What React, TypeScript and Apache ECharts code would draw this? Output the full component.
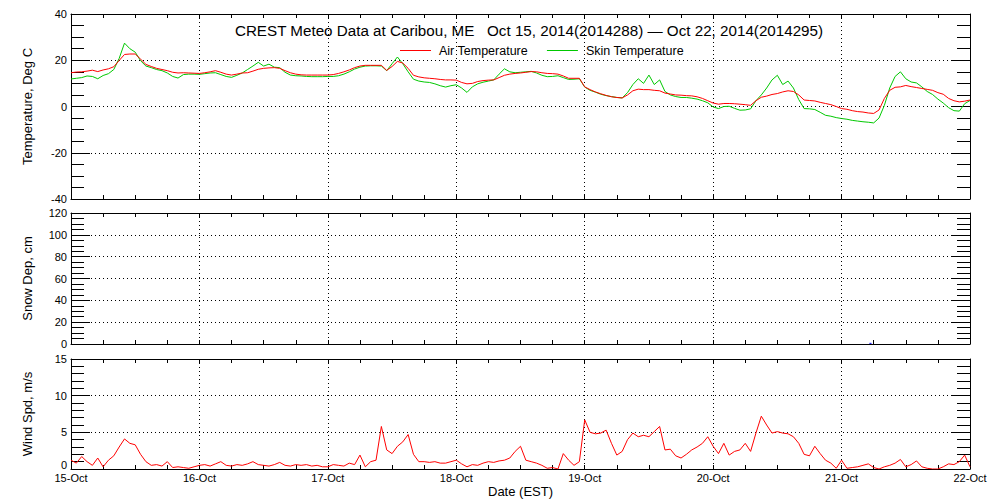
import React, { useEffect, useRef } from "react";
import * as echarts from "echarts";

const FONT = "Liberation Sans";

const titleText = "CREST Meteo Data at Caribou, ME   Oct 15, 2014(2014288) — Oct 22, 2014(2014295)";
const seriesNames = ["Air Temperature", "Skin Temperature", "Snow Depth", "Wind Speed"];
const dayLabels = ["15-Oct", "16-Oct", "17-Oct", "18-Oct", "19-Oct", "20-Oct", "21-Oct", "22-Oct"];

// hourly values, hour 0 = Oct 15 00:00 EST, hour 168 = Oct 22 00:00
const airTemp = [
  14.6, 14.9, 15.0, 15.3, 15.7, 15.1, 15.8, 16.3, 17.2, 19.9,
  22.5, 22.7, 22.7, 20.5, 18.2, 17.3, 16.5, 16.0, 15.5, 14.8,
  14.5, 14.6, 14.5, 14.4, 14.3, 14.6, 15.0, 15.5, 14.8, 14.0,
  13.6, 14.0, 14.5, 14.6, 15.3, 16.1, 16.5, 16.7, 16.8, 16.5,
  15.5, 14.6, 14.0, 13.7, 13.6, 13.6, 13.6, 13.6, 13.6, 13.8,
  14.3, 15.0, 15.8, 16.8, 17.5, 17.8, 17.8, 17.8, 17.8, 15.6,
  17.3, 19.5, 18.8, 16.5, 13.5, 12.8, 12.4, 12.2, 12.0, 11.7,
  11.5, 11.5, 11.4, 10.4, 9.8, 10.0, 10.8, 11.2, 11.4, 11.5,
  12.5, 13.5, 14.0, 14.3, 14.5, 14.8, 15.1, 15.0, 14.6, 14.3,
  14.2, 14.0, 13.2, 12.2, 12.2, 12.2, 8.5, 7.3, 6.3, 5.5,
  4.8, 4.2, 3.9, 3.7, 5.0, 6.8, 7.5, 7.3, 7.3, 7.0,
  6.8, 5.8, 5.4, 5.0, 4.9, 4.7, 4.6, 4.2, 3.5, 2.5,
  1.5, 1.0, 1.3, 1.3, 1.2, 1.0, 0.8, 0.5, 2.5, 4.0,
  4.5, 5.2, 5.6, 6.3, 6.8, 6.5, 5.0, 2.8, 2.6, 2.4,
  1.8, 1.3, 0.8, 0.0, -0.9, -1.2, -1.8, -2.2, -2.4, -2.8,
  -3.0, -1.5, 3.5, 7.0, 8.3, 8.5, 9.1, 8.6, 8.2, 7.8,
  7.4, 7.0, 6.0, 5.3, 3.5, 2.5, 2.0, 2.3, 2.8,
];

const skinTemp = [
  11.9, 12.2, 12.5, 13.2, 13.0, 12.0, 13.4, 14.2, 16.0, 20.8,
  27.4, 25.0, 23.5, 19.8, 17.5, 16.8, 16.0, 15.5, 14.5, 13.0,
  12.3, 13.8, 14.0, 14.0, 13.9, 14.2, 14.5, 14.6, 13.8, 13.0,
  12.6, 13.5, 14.5, 16.0, 17.5, 19.1, 17.5, 18.3, 17.0, 16.8,
  14.8, 13.6, 13.3, 13.2, 13.0, 12.9, 12.9, 12.9, 13.0, 13.0,
  13.3, 14.0, 15.0, 16.2, 17.0, 17.5, 17.6, 17.6, 17.5, 15.5,
  18.5, 21.4, 18.5, 15.0, 11.8, 11.0, 10.6, 10.4, 9.8, 9.0,
  8.4, 9.0, 9.4, 8.0, 6.1, 8.5, 9.8, 10.5, 11.0, 11.5,
  14.0, 16.3, 15.0, 14.6, 14.8, 15.0, 15.2, 14.5, 13.5, 12.9,
  13.0, 13.3, 12.5, 11.7, 11.8, 12.0, 8.4, 7.0, 6.2, 5.3,
  4.7, 4.3, 3.9, 3.7, 6.0, 9.5, 12.0, 10.0, 13.6, 9.5,
  11.5, 6.5, 5.0, 4.3, 3.9, 3.9, 3.6, 3.2, 2.5, 1.6,
  -0.2, -0.9, 0.0, 0.1, -0.8, -1.6, -1.5, -1.0, 2.5, 5.0,
  8.0, 11.5, 13.5, 9.5, 11.0, 8.0, 3.0, -0.9, -1.0, -1.3,
  -2.5, -3.8, -4.2, -4.8, -5.2, -5.5, -6.0, -6.3, -6.6, -6.8,
  -7.1, -5.0, 0.5, 8.0, 13.0, 15.0, 12.0, 10.6, 10.2, 8.5,
  6.5, 5.2, 3.2, 1.5, -0.5, -1.8, -2.0, 1.2, 2.6,
];

const windSpeed = [
  1.2, 0.8, 1.7, 1.0, 0.5, 1.5, 0.3, 1.2, 1.8, 3.0,
  4.1, 3.5, 3.3, 2.0, 1.0, 0.5, 0.6, 0.4, 1.0, 0.2,
  0.3, 0.2, 0.1, 0.3, 0.5, 0.6, 0.4, 0.7, 1.0, 0.5,
  0.4, 0.6, 0.5, 0.7, 1.0, 0.6, 0.5, 0.4, 0.6, 0.9,
  0.5, 0.4, 0.6, 0.5, 0.6, 0.4, 0.5, 0.3, 0.3, 0.6,
  0.5, 0.4, 0.8, 0.6, 1.9, 0.3, 1.0, 1.2, 5.8, 2.6,
  2.1, 3.1, 3.7, 4.7, 2.0, 1.0, 1.0, 0.9, 1.0, 0.8,
  0.8, 1.0, 1.2, 0.7, 0.3, 0.6, 0.5, 0.8, 1.0, 0.9,
  1.1, 1.2, 1.5, 2.4, 3.1, 1.2, 1.0, 0.8, 0.5, 0.1,
  0.2, 0.0, 2.1, 1.2, 0.5, 1.0, 6.7, 5.0, 4.8, 4.9,
  5.3, 3.5, 1.9, 2.4, 4.0, 4.9, 4.4, 4.6, 4.4, 5.1,
  5.8, 2.6, 2.7, 1.8, 1.5, 2.0, 2.6, 3.0, 3.5, 4.4,
  3.1, 2.1, 3.5, 1.9, 2.4, 2.6, 3.5, 2.4, 4.9, 7.2,
  6.0, 4.9, 5.1, 4.9, 4.8, 4.4, 3.5, 2.0, 1.8, 3.1,
  2.1, 1.2, 0.8, 0.1, 1.2, 0.1, 0.2, 0.3, 0.5, 0.7,
  0.2, 0.0, 0.3, 0.5, 0.8, 1.3, 0.3, 0.6, 1.1, 0.3,
  0.1, 0.0, 0.0, 0.3, 0.7, 0.6, 1.0, 1.9, 0.3,
];

const snowHours = [149.2, 149.6];
const snowDepth = [0.6, 0.6];

const BLACK = "#000000";
const lineStyle = { color: BLACK, width: 1 };
const dotted = { color: BLACK, width: 1, type: [1, 3] as any };

function xAxesFor(grid: number, labels: boolean) {
  const common = {
    type: "value",
    gridIndex: grid,
    min: 0,
    max: 168,
    interval: 24,
    axisLine: { show: true, onZero: false, lineStyle },
    axisTick: { show: true, inside: true, length: 4, lineStyle },
    minorTick: { show: true, splitNumber: 4, length: 4, lineStyle },
  };
  return [
    {
      ...common,
      position: "bottom",
      splitLine: { show: true, lineStyle: dotted },
      axisLabel: {
        show: labels,
        margin: 3,
        fontSize: 11,
        fontFamily: FONT,
        color: BLACK,
        formatter: (v: number) => dayLabels[Math.round(v / 24)] ?? "",
      },
      name: labels ? "Date (EST)" : "",
      nameLocation: "middle",
      nameGap: 16,
      nameTextStyle: { fontSize: 13, fontFamily: FONT, color: BLACK },
    },
    {
      ...common,
      position: "top",
      splitLine: { show: false },
      axisLabel: { show: false },
    },
  ];
}

function yAxesFor(
  grid: number,
  min: number,
  max: number,
  interval: number,
  minorSplit: number,
  name: string,
  raiseZero: boolean
) {
  const common = {
    type: "value",
    gridIndex: grid,
    min,
    max,
    interval,
    axisLine: { show: true, onZero: false, lineStyle },
    axisTick: { show: true, inside: true, length: 19, lineStyle },
    minorTick: { show: true, splitNumber: minorSplit, length: 13, lineStyle },
  };
  return [
    {
      ...common,
      position: "left",
      splitLine: { show: true, lineStyle: dotted },
      axisLabel: {
        show: true,
        margin: 4,
        fontSize: 11,
        fontFamily: FONT,
        color: BLACK,
        formatter: (v: number) => (raiseZero && v === min ? `{lo|${v}}` : `${v}`),
        rich: {
          lo: { fontSize: 11, fontFamily: FONT, color: BLACK, padding: [0, 0, 8, 0] },
        },
      },
      name,
      nameLocation: "middle",
      nameGap: 37,
      nameTextStyle: { fontSize: 13, fontFamily: FONT, color: BLACK },
    },
    {
      ...common,
      position: "right",
      splitLine: { show: false },
      axisLabel: { show: false },
    },
  ];
}

export default function App() {
  const ref = useRef<HTMLDivElement>(null);

  useEffect(() => {
    if (!ref.current) return;
    const chart = echarts.init(ref.current, undefined, { renderer: "svg" });
    const toPts = (arr: number[]) => arr.map((v, i) => [i, v]);

    const option: any = {
      animation: false,
      backgroundColor: "#ffffff",
      textStyle: { fontFamily: FONT },
      grid: [
        { left: 71, top: 14, width: 899, height: 185 },
        { left: 71, top: 213, width: 899, height: 131 },
        { left: 71, top: 359, width: 899, height: 110 },
      ],
      xAxis: [...xAxesFor(0, false), ...xAxesFor(1, false), ...xAxesFor(2, true)],
      yAxis: [
        ...yAxesFor(0, -40, 40, 20, 4, "Temperature, Deg C", false),
        ...yAxesFor(1, 0, 120, 20, 4, "Snow Dep, cm", false),
        ...yAxesFor(2, 0, 15, 5, 5, "Wind Spd, m/s", true),
      ],
      legend: {
        data: [seriesNames[0], seriesNames[1]],
        left: 400,
        top: 44,
        icon: "rect",
        itemWidth: 31,
        itemHeight: 1,
        itemGap: 19,
        padding: 0,
        textStyle: { fontSize: 12.5, fontFamily: FONT, color: BLACK, padding: [0, 0, 0, 3] },
      },
      graphic: [
        {
          type: "text",
          x: 529,
          y: 30,
          style: {
            text: titleText,
            fontSize: 15.2,
            fontFamily: FONT,
            fill: BLACK,
            align: "center",
            verticalAlign: "middle",
          },
        },
      ],
      series: [
        {
          name: seriesNames[0],
          type: "line",
          xAxisIndex: 0,
          yAxisIndex: 0,
          data: toPts(airTemp),
          symbol: "none",
          color: "#ff0000",
          lineStyle: { color: "#ff0000", width: 1 },
          z: 3,
        },
        {
          name: seriesNames[1],
          type: "line",
          xAxisIndex: 0,
          yAxisIndex: 0,
          data: toPts(skinTemp),
          symbol: "none",
          color: "#00c800",
          lineStyle: { color: "#00c800", width: 1 },
          z: 2,
        },
        {
          name: seriesNames[2],
          type: "line",
          xAxisIndex: 2,
          yAxisIndex: 2,
          data: snowHours.map((h, i) => [h, snowDepth[i]]),
          symbol: "none",
          color: "#0000ff",
          lineStyle: { color: "#0000ff", width: 1 },
          z: 5,
        },
        {
          name: seriesNames[3],
          type: "line",
          xAxisIndex: 4,
          yAxisIndex: 4,
          data: toPts(windSpeed),
          symbol: "none",
          color: "#ff0000",
          lineStyle: { color: "#ff0000", width: 1 },
        },
      ],
    };

    chart.setOption(option);
    return () => chart.dispose();
  }, []);

  return (
    <div
      ref={ref}
      style={{ position: "fixed", left: 0, top: 0, width: 1000, height: 500, background: "#fff" }}
    />
  );
}
